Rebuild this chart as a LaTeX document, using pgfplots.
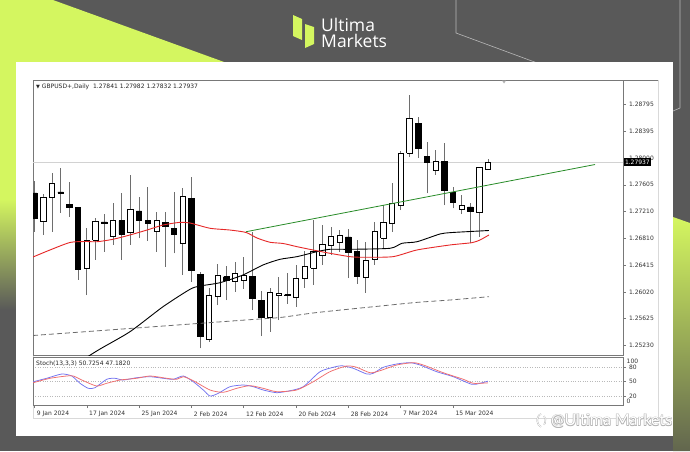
\documentclass[border=0pt]{standalone}
\usepackage{pgfplots}
\pgfplotsset{compat=1.18}
\usepackage{fontspec}
\setmainfont{DejaVu Sans}
\newfontfamily\opensans{Open Sans}
\newfontfamily\lato{Lato}
\definecolor{bgc}{RGB}{89,89,89}
\definecolor{limec}{RGB}{212,246,96}
\definecolor{olivec}{RGB}{98,102,78}
\definecolor{midolive}{RGB}{160,178,78}
\definecolor{ma1}{RGB}{230,40,40}
\definecolor{trend}{RGB}{40,140,40}
\definecolor{stk}{RGB}{115,115,240}
\definecolor{std}{RGB}{240,110,110}
\definecolor{wick}{RGB}{110,110,110}
\definecolor{framec}{RGB}{120,120,120}
\newcommand{\smallf}{\fontsize{6}{7}\selectfont}
\pgfplotsset{
 wickst/.style={draw=wick, line width=0.6pt},
}
% #1 fill, #2 index, #3 open, #4 high, #5 low, #6 close
\newcommand{\candle}[6]{%
 \pgfmathsetmacro\xa{#2-0.31}\pgfmathsetmacro\xb{#2+0.31}%
 \edef\temp{\noexpand\addplot[wickst] coordinates {(#2,#5) (#2,#4)};%
 \noexpand\addplot[draw=black, line width=0.5pt, fill=#1] coordinates {(\xa,#3) (\xb,#3) (\xb,#6) (\xa,#6) (\xa,#3)};}%
 \temp}
\newcommand{\bull}{\candle{white}}
\newcommand{\bear}{\candle{black}}
\begin{document}
\begin{tikzpicture}
\useasboundingbox (0pt,0pt) rectangle (690pt,-451pt);
\begin{scope}[x=1pt,y=1pt]
\fill[bgc] (0,0) rectangle (690,-451);
\fill[limec] (0,0) -- (53,0) -- (260,-75) -- (260,-200) -- (0,-200) -- cycle;
\shade[top color=limec, middle color=midolive, bottom color=bgc] (0,-199) rectangle (20,-310);
\shade[top color=limec, middle color=midolive, bottom color=olivec] (673,-217) -- (690,-223) -- (690,-451) -- (673,-451) -- cycle;
\draw[gray!55, line width=0.6pt] (456,0) -- (456,-33) -- (540,-64);
\draw[gray!55, line width=0.6pt] (680,0) -- (680,-108) -- (673,-111);
% logo
\fill[limec] (293,-15) -- (302,-19) -- (302,-40) -- (293,-36) -- cycle;
\fill[limec] (305,-24) -- (314,-27) -- (314,-44) -- (305,-48) -- cycle;
\node[anchor=base west, text=white, inner sep=0, font=\opensans\fontsize{17.5}{20}\selectfont] at (321,-31) {Ultima};
\node[anchor=base west, text=white, inner sep=0, font=\opensans\fontsize{17.5}{20}\selectfont] at (321,-47) {Markets};
% white panel
\fill[white] (16,-62) rectangle (673,-436);
\draw[gray!30, line width=0.5pt] (33,-80) rectangle (658,-418);
\draw[framec, line width=0.9pt] (33,-80) -- (658,-80);
\end{scope}

\begin{axis}[
  at={(33pt,-355.5pt)}, anchor=south west, scale only axis,
  width=590pt, height=275.5pt,
  xmin=-0.16, xmax=67.5, ymin=1.25079, ymax=1.29154,
  xtick=\empty,
  ytick={1.2523,1.25625,1.2602,1.26415,1.2681,1.2721,1.27605,1.28,1.28395,1.28795},
  yticklabels={1.25230,1.25625,1.26020,1.26415,1.26810,1.27210,1.27605,1.28000,1.28395,1.28795},
  scaled y ticks=false,
  ytick pos=right, yticklabel pos=right, tick align=outside, major tick length=2.5pt,
  tick style={framec, line width=0.4pt},
  yticklabel style={font=\smallf, text=black!80},
  axis line style={framec, line width=0.7pt},
  clip mode=individual,
]
\addplot[gray!35, line width=0.4pt] coordinates {(-0.16,1.27937) (67.5,1.27937)};
\bear{0}{1.27483}{1.27660}{1.26906}{1.27113}
\bull{1}{1.27069}{1.27468}{1.26862}{1.27424}
\bull{2}{1.27424}{1.27779}{1.26906}{1.27631}
\bear{3}{1.27498}{1.27853}{1.27187}{1.27483}
\bear{4}{1.27313}{1.27650}{1.27132}{1.27276}
\bear{5}{1.27265}{1.27276}{1.26196}{1.26354}
\bull{6}{1.26369}{1.26965}{1.25974}{1.26788}
\bull{7}{1.26788}{1.27113}{1.26492}{1.27069}
\bear{8}{1.27054}{1.27172}{1.26615}{1.27032}
\bull{9}{1.26847}{1.27335}{1.26714}{1.27083}
\bear{10}{1.27073}{1.27483}{1.26492}{1.26876}
\bull{11}{1.26896}{1.27749}{1.26714}{1.27242}
\bear{12}{1.27217}{1.27424}{1.26817}{1.27083}
\bear{13}{1.27076}{1.27576}{1.26777}{1.27032}
\bull{14}{1.26910}{1.27206}{1.26615}{1.27083}
\bear{15}{1.27044}{1.27206}{1.26393}{1.26995}
\bear{16}{1.26961}{1.27502}{1.26591}{1.26872}
\bull{17}{1.26739}{1.27552}{1.26270}{1.27428}
\bear{18}{1.27404}{1.27720}{1.26171}{1.26333}
\bear{19}{1.26280}{1.26319}{1.25185}{1.25357}
\bull{20}{1.25319}{1.26073}{1.25283}{1.25974}
\bull{21}{1.25949}{1.26433}{1.25826}{1.26270}
\bear{22}{1.26245}{1.26403}{1.25900}{1.26186}
\bull{23}{1.26171}{1.26467}{1.26023}{1.26295}
\bull{24}{1.26186}{1.26536}{1.26063}{1.26259}
\bear{25}{1.26255}{1.26910}{1.25752}{1.25925}
\bear{26}{1.25900}{1.26033}{1.25367}{1.25649}
\bull{27}{1.25649}{1.26078}{1.25427}{1.26018}
\bull{28}{1.25964}{1.26240}{1.25604}{1.25999}
\bear{29}{1.25981}{1.26299}{1.25841}{1.25967}
\bull{30}{1.25944}{1.26418}{1.25801}{1.26221}
\bull{31}{1.26221}{1.26625}{1.26078}{1.26393}
\bull{32}{1.26369}{1.27083}{1.26122}{1.26615}
\bull{33}{1.26566}{1.27009}{1.26418}{1.26724}
\bull{34}{1.26714}{1.26984}{1.26566}{1.26847}
\bull{35}{1.26748}{1.26935}{1.26615}{1.26862}
\bear{36}{1.26832}{1.26950}{1.26225}{1.26610}
\bear{37}{1.26615}{1.26788}{1.26137}{1.26245}
\bull{38}{1.26240}{1.26758}{1.26004}{1.26492}
\bull{39}{1.26507}{1.27058}{1.26418}{1.26910}
\bull{40}{1.26817}{1.27305}{1.26669}{1.27044}
\bull{41}{1.27039}{1.27631}{1.26906}{1.27335}
\bull{42}{1.27305}{1.28104}{1.27231}{1.28075}
\bull{43}{1.28075}{1.28933}{1.28020}{1.28588}
\bear{44}{1.28514}{1.28607}{1.28001}{1.28144}
\bear{45}{1.28023}{1.28242}{1.27478}{1.27941}
\bull{46}{1.27823}{1.28119}{1.27749}{1.27956}
\bear{47}{1.27956}{1.28218}{1.27305}{1.27527}
\bear{48}{1.27493}{1.27576}{1.27257}{1.27339}
\bull{49}{1.27242}{1.27453}{1.27172}{1.27295}
\bear{50}{1.27276}{1.27335}{1.26739}{1.27217}
\bull{51}{1.27202}{1.27872}{1.26836}{1.27857}
\bull{52}{1.27841}{1.27982}{1.27832}{1.27937}
% moving averages
\addplot[gray!85!black, line width=0.8pt, dash pattern=on 5pt off 3pt, smooth, tension=0.4] coordinates {
(-0.16,1.25375) (12.11,1.25490) (24.72,1.25609) (28.17,1.25641) (32.41,1.25715) (39.98,1.25815) (43.87,1.25865) (47.66,1.25900) (52.13,1.25949)};
\addplot[black, line width=0.9pt, smooth, tension=0.4] coordinates {
(4.08,1.24894) (7.33,1.25160) (10.96,1.25431) (14.75,1.25801) (17.84,1.26058) (18.99,1.26107) (21.28,1.26156) (23.92,1.26270) (26.21,1.26418) (28.17,1.26502) (30.11,1.26541) (32.41,1.26615) (33.89,1.26650) (36.19,1.26650) (40.78,1.26665) (42.16,1.26739) (43.87,1.26762) (46.50,1.26876) (47.66,1.26896) (49.95,1.26913) (52.13,1.26928)};
\addplot[ma1, line width=0.9pt, smooth, tension=0.4] coordinates {
(-0.16,1.26536) (1.79,1.26640) (4.08,1.26751) (5.80,1.26765) (7.18,1.26762) (9.01,1.26798) (10.96,1.26862) (12.91,1.26935) (14.75,1.27009) (16.70,1.27049) (17.84,1.27039) (20.14,1.26961) (22.43,1.26935) (24.27,1.26899) (25.53,1.26817) (27.02,1.26754) (28.51,1.26736) (30.11,1.26689) (31.94,1.26640) (33.89,1.26591) (36.19,1.26541) (37.68,1.26532) (41.12,1.26541) (43.87,1.26640) (47.66,1.26714) (50.18,1.26748) (51.10,1.26788) (52.13,1.26862)};
\addplot[trend, line width=0.8pt] coordinates {(24.27,1.26910) (64.29,1.27904)};
\coordinate (cp) at (axis cs:67.5,1.27937);
\end{axis}

\begin{axis}[
  at={(33pt,-405.5pt)}, anchor=south west, scale only axis,
  width=590pt, height=48pt,
  xmin=-0.16, xmax=67.5, ymin=0, ymax=100,
  ytick={20,50,80}, yticklabels={20,50,80},
  ymajorgrids, grid style={gray!55, dotted, line width=0.5pt},
  ytick pos=right, yticklabel pos=right,
  xtick={0,6,12,18,24,30,36,42,48},
  xticklabels={9 Jan 2024,17 Jan 2024,25 Jan 2024,2 Feb 2024,12 Feb 2024,20 Feb 2024,28 Feb 2024,7 Mar 2024,15 Mar 2024},
  xtick pos=bottom, tick align=outside, major tick length=2.5pt,
  tick style={framec, line width=0.4pt},
  xticklabel style={font=\smallf, text=black!80, anchor=north west, xshift=-1pt},
  yticklabel style={font=\smallf, text=black!80},
  axis line style={framec, line width=0.7pt},
  clip mode=individual,
]
\addplot[stk, line width=0.75pt, smooth, tension=0.4] coordinates {
(-0.13,49.6) (1.41,56.7) (3.13,65.6) (4.28,61.5) (5.23,46.3) (6.18,35.8) (6.95,37.1) (8.29,54.6) (9.24,56.7) (10.19,53.1) (11.73,57.9) (13.26,60) (14.78,56.7) (15.93,54.6) (17.08,61.5) (18.22,49.6) (19.37,32.3) (20.14,19.8) (21.09,25.4) (22.43,39.2) (23.96,42.7) (25.10,39.2) (26.25,32.3) (27.79,26.7) (29.31,30.8) (30.84,39.2) (32.75,70.4) (34.28,79.6) (35.24,82.9) (36.57,77.5) (38.11,65.6) (38.86,67.1) (40.01,79.6) (41.55,86.5) (43.07,89.2) (44.22,84.4) (46.14,70.4) (48.04,60) (50.15,44.2) (51.10,46.3) (52,50.73)};
\addplot[std, line width=0.75pt, smooth, tension=0.4] coordinates {
(-0.13,47.5) (1.79,56.7) (3.70,61.5) (4.46,61.5) (5.61,51.7) (7.14,40.6) (8.29,46.3) (9.82,53.1) (11.73,56.7) (13.26,61.5) (15.17,56.7) (16.32,54.6) (17.08,60) (18.22,51.7) (20.14,32.3) (21.66,27.5) (23.20,35.8) (24.72,41.3) (26.25,35.8) (27.79,28.8) (30.08,32.3) (31.98,49.6) (33.89,70.4) (35.81,82.3) (36.96,79.6) (38.49,68.3) (39.63,72.5) (41.55,84.4) (43.45,89.2) (44.60,84.4) (46.89,68.3) (49.19,54.6) (50.33,46.3) (52,47.18)};
\node[anchor=north west, font=\smallf, text=black!80, inner sep=1pt, xshift=2.5pt, yshift=-0.3pt] at (rel axis cs:1,1) {100};
\node[anchor=south west, font=\smallf, text=black!80, inner sep=1pt, xshift=2.5pt, yshift=0.3pt] at (rel axis cs:1,0) {0};
\node[anchor=north west, font=\smallf, text=black!85, inner sep=1pt, xshift=2pt, yshift=-2pt] at (rel axis cs:0,1) {Stoch(13,3,3) 50.7254 47.1820};
\end{axis}

\node[anchor=west, fill=black, text=white, font=\smallf, inner xsep=1.2pt, inner ysep=1.6pt, xshift=0.6pt] at (cp) {1.27937};
\node[anchor=west, font=\smallf, text=black!85, inner sep=0pt] at (36pt,-86.7pt) {{\fontsize{5}{6}\selectfont ▼}\ GBPUSD+,Daily\ \ 1.27841 1.27982 1.27832 1.27937};
\fill[gray!60] (502pt,-80.5pt) -- (506pt,-80.5pt) -- (504pt,-83.5pt) -- cycle;
% watermark
\begin{scope}[x=1pt,y=1pt]
\draw[gray!65, line width=1.4pt] (541,-414) arc[start angle=100, end angle=260, x radius=4.5, y radius=6.5];
\draw[gray!65, line width=1.4pt] (544,-416) arc[start angle=60, end angle=-60, x radius=3, y radius=5];
\draw[white, line width=0.7pt] (541,-414) arc[start angle=100, end angle=260, x radius=4.5, y radius=6.5];
\draw[white, line width=0.7pt] (544,-416) arc[start angle=60, end angle=-60, x radius=3, y radius=5];
\foreach \dx/\dy in {0.5/0.5,-0.5/0.5,0.5/-0.5,-0.5/-0.5}{
\node[anchor=west, inner sep=0, text=gray!60, font=\lato\fontsize{16}{19}\selectfont] at (551+\dx,-420.7+\dy) {@Ultima Markets};}
\node[anchor=west, inner sep=0, text=white, font=\lato\fontsize{16}{19}\selectfont] at (551,-420.7) {@Ultima Markets};
\end{scope}
\end{tikzpicture}
\end{document}
